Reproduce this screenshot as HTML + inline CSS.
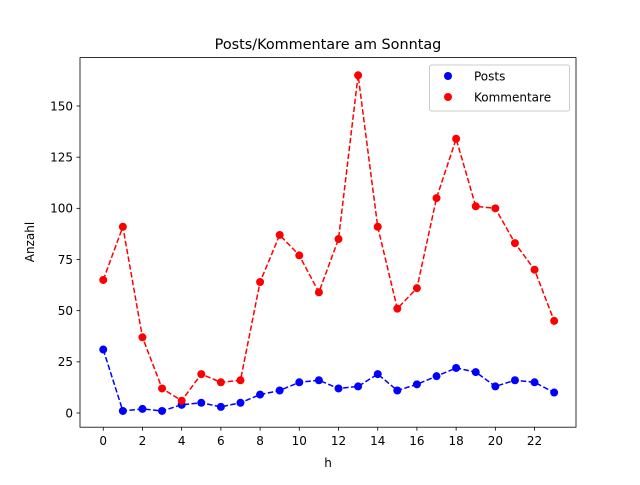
<!DOCTYPE html>
<html><head><meta charset="utf-8"><style>
body{margin:0;background:#fff}
svg text{font-family:"DejaVu Sans","Liberation Sans",sans-serif;fill:#000}
</style></head><body>
<svg id="chart" width="640" height="480" viewBox="0 0 640 480">
<rect x="0" y="0" width="640" height="480" fill="#fff"/>
<g id="plot"></g>
<rect x="80" y="57.6" width="496" height="369.6" fill="none" stroke="#000" stroke-width="0.8"/>
<text x="328" y="49" font-size="14.4" text-anchor="middle">Posts/Kommentare am Sonntag</text>
<text x="328" y="467" font-size="12" text-anchor="middle">h</text>
<text x="34" y="242" font-size="12" text-anchor="middle" transform="rotate(-90 34 242)">Anzahl</text>
<g>
<rect x="429.5" y="65" width="140" height="46" fill="#fff" stroke="#ccc" stroke-width="1" rx="2"/>
<g><circle cx="448" cy="76" r="4" fill="blue"/><text x="474" y="80.5" font-size="12">Posts</text></g>
<g><circle cx="448" cy="97" r="4" fill="red"/><text x="474" y="101.5" font-size="12">Kommentare</text></g>
</g>
</svg>
<script>
const hours=[0,1,2,3,4,5,6,7,8,9,10,11,12,13,14,15,16,17,18,19,20,21,22,23];
const posts=[31,1,2,1,4,5,3,5,9,11,15,16,12,13,19,11,14,18,22,20,13,16,15,10];
const kommentare=[65,91,37,12,6,19,15,16,64,87,77,59,85,165,91,51,61,105,134,101,100,83,70,45];
const xTicks=[0,2,4,6,8,10,12,14,16,18,20,22];
const yTicks=[0,25,50,75,100,125,150];
const NS='http://www.w3.org/2000/svg';
const xs=v=>80.7+(v+1.15)*(496/25.3);
const ys=v=>413-v*(307/150);
const g=document.getElementById('plot');
function mk(t,a){const e=document.createElementNS(NS,t);for(const k in a)e.setAttribute(k,a[k]);g.appendChild(e);return e;}
xTicks.forEach(t=>{
 const l=mk('line',{x1:xs(t),x2:xs(t),y1:427.2,y2:430.7,stroke:'#000','stroke-width':0.8});
 
 
 const tx=mk('text',{x:xs(t),y:445,'font-size':12,'text-anchor':'middle'});tx.textContent=t;
 
 
});
yTicks.forEach(t=>{
 const l=mk('line',{x1:76.5,x2:80,y1:ys(t),y2:ys(t),stroke:'#000','stroke-width':0.8});
 
 
 const tx=mk('text',{x:73,y:ys(t)+4.3,'font-size':12,'text-anchor':'end'});tx.textContent=t;
 
 
});
function series(vals,col,name){
 const p=mk('polyline',{points:vals.map((v,i)=>xs(hours[i])+','+ys(v)).join(' '),fill:'none',stroke:col,'stroke-width':1.5,'stroke-dasharray':'5.5,2.4'});
 
 
 vals.forEach((v,i)=>{
  const c=mk('circle',{cx:xs(hours[i]),cy:ys(v),r:4,fill:col});
  
  
 });
}
series(posts,'blue','posts');
series(kommentare,'red','kommentare');
</script>
</body></html>
